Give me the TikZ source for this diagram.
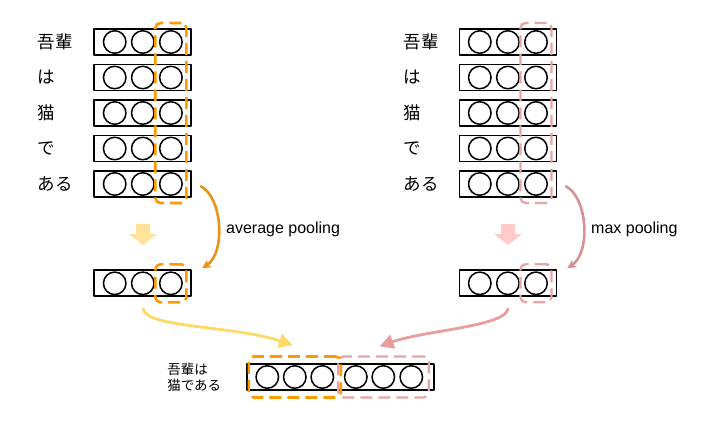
\documentclass[tikz,border=0pt]{standalone}
\usepackage{fontspec}
\setmainfont{Liberation Sans}
\newfontfamily\jpfont{Noto Sans CJK JP}
\usetikzlibrary{positioning,fit,calc,arrows.meta}

\definecolor{avgorange}{HTML}{FF9900}
\definecolor{avgbendc}{HTML}{E8941A}
\definecolor{avgpale}{HTML}{FFE29A}
\definecolor{avgflowc}{HTML}{FFD966}
\definecolor{maxpink}{HTML}{E8A4A4}
\definecolor{maxbendc}{HTML}{D69292}
\definecolor{maxpale}{HTML}{FFCACA}
\definecolor{maxflowc}{HTML}{EA9D9D}

\tikzset{
  vec/.style={draw, line width=1.8pt, minimum width=97pt, minimum height=26pt, inner sep=0pt},
  unit/.style={draw, circle, line width=1.5pt, minimum size=22.5pt, inner sep=0pt},
  word/.style={anchor=west, inner sep=0pt, font=\jpfont\fontsize{17.5}{20}\selectfont},
  poollabel/.style={anchor=west, inner sep=0pt, font=\fontsize{16}{18}\selectfont},
  avgframe/.style={draw=avgorange, line width=2.6pt, dash pattern=on 12pt off 6pt,
    rounded corners=5pt, inner xsep=3.5pt, inner ysep=7pt},
  maxframe/.style={draw=maxpink, line width=2.3pt, dash pattern=on 12pt off 6pt,
    rounded corners=5pt, inner xsep=3.5pt, inner ysep=7pt},
  avgbend/.style={draw=avgbendc, line width=2.6pt, -{Stealth[length=9pt,width=9pt]}},
  maxbend/.style={draw=maxbendc, line width=2.6pt, -{Stealth[length=9pt,width=9pt]}},
  avgflow/.style={draw=avgflowc, line width=2.8pt, -{Triangle[length=14pt,width=14pt]}},
  maxflow/.style={draw=maxflowc, line width=2.8pt, -{Triangle[length=14pt,width=14pt]}},
}

\begin{document}
\begin{tikzpicture}[x=1pt, y=-1pt, line join=round]
	\useasboundingbox (0,0) rectangle (714,423);
	% word vectors, left and right
	\foreach \w [count=\i] in {吾輩,は,猫,で,ある} {
		\node[vec] (l\i) at (142.8,{42+35.5*(\i-1)}) {};
		\node[vec] (r\i) at (507.9,{42+35.5*(\i-1)}) {};
		\node[word] at (37.5,{42+35.5*(\i-1)}) {\w};
		\node[word] at (403.5,{42+35.5*(\i-1)}) {\w};
		\foreach \k in {1,2,3} {
			\node[unit] (l\i-\k) at ([xshift={28.1*(\k-2)}]l\i.center) {};
			\node[unit] (r\i-\k) at ([xshift={28.1*(\k-2)}]r\i.center) {};
		}
	}
	\node[avgframe, fit=(l1-3)(l5-3)] (avgcol) {};
	\node[maxframe, fit=(r1-3)(r5-3)] (maxcol) {};
	% pooled vectors
	\node[vec] (lp) at (142.8,283.3) {};
	\node[vec] (rp) at (507.9,283.3) {};
	\foreach \k in {1,2,3} {
		\node[unit] (lp-\k) at ([xshift={28.1*(\k-2)}]lp.center) {};
		\node[unit] (rp-\k) at ([xshift={28.1*(\k-2)}]rp.center) {};
	}
	\node[avgframe, fit=(lp-3)] (avgpick) {};
	\node[maxframe, fit=(rp-3)] (maxpick) {};
	% block arrows
	\fill[avgpale] (136,224) -- ++(14,0) -- ++(0,10) -- ++(7,0) -- ++(-14,11)
		-- ++(-14,-11) -- ++(7,0) -- cycle;
	\fill[maxpale] (501,224) -- ++(14,0) -- ++(0,10) -- ++(7,0) -- ++(-14,11)
		-- ++(-14,-11) -- ++(7,0) -- cycle;
	% pooling arrows
	\draw[avgbend] ($(l5.east)+(8,2)$) .. controls +(22,10) and +(24,-16) .. ($(lp.east)+(10,-15)$);
	\draw[maxbend] ($(r5.east)+(8,2)$) .. controls +(22,10) and +(24,-16) .. ($(rp.east)+(10,-15)$);
	\node[poollabel] at (226,229) {average pooling};
	\node[poollabel] at (591,229) {max pooling};
	% concatenated vector
	\node[vec, minimum width=187pt] (cat) at (340.8,377) {};
	\foreach \d [count=\k] in {-73.5,-46,-18.5,15,42.5,70.5}
		\node[unit] (cat-\k) at ([xshift=\d]cat.center) {};
	\node[maxframe, inner xsep=5.5pt, inner ysep=8.5pt, fit=(cat-4)(cat-6)] (maxcat) {};
	\node[avgframe, inner xsep=6.5pt, inner ysep=8.5pt, fit=(cat-1)(cat-3)] (avgcat) {};
	\node[word, anchor=east, align=left, font=\jpfont\fontsize{13.5}{16}\selectfont,
		left=25pt of cat] (sentence) {吾輩は\\猫である};
	% into the concatenation
	\draw[avgflow] ($(lp.south)+(0,11)$) .. controls +(2,20) and +(-60,-20) .. ($(avgcat.north)+(-2,-10)$);
	\draw[maxflow] ($(rp.south)+(0,11)$) .. controls +(0,18) and +(45,-16) .. ($(maxcat.north)+(-4,-9)$);
\end{tikzpicture}
\end{document}
